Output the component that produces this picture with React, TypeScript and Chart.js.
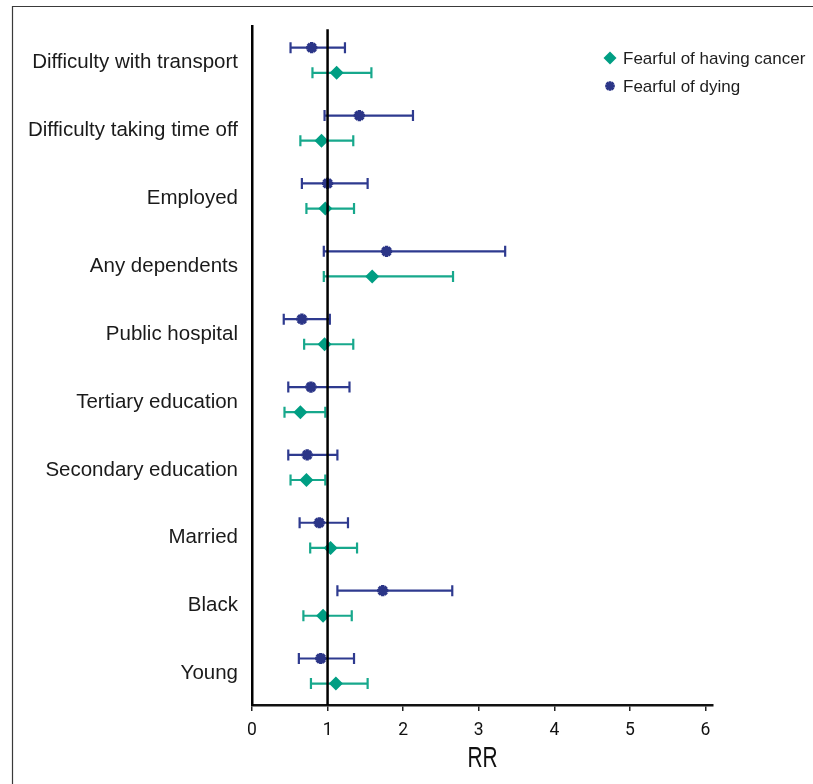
import React, { useEffect, useRef } from "react";
import { Chart, registerables } from "chart.js";

Chart.register(...registerables);

const categories = [
  "Difficulty with transport",
  "Difficulty taking time off",
  "Employed",
  "Any dependents",
  "Public hospital",
  "Tertiary education",
  "Secondary education",
  "Married",
  "Black",
  "Young",
];

const dyingRR = [0.79, 1.42, 1.0, 1.78, 0.66, 0.78, 0.73, 0.89, 1.73, 0.91];
const dyingLow = [0.51, 0.96, 0.66, 0.95, 0.42, 0.48, 0.48, 0.63, 1.13, 0.62];
const dyingHigh = [1.23, 2.13, 1.53, 3.35, 1.03, 1.29, 1.13, 1.27, 2.65, 1.35];

const cancerRR = [1.12, 0.92, 0.97, 1.59, 0.96, 0.64, 0.72, 1.04, 0.94, 1.11];
const cancerLow = [0.8, 0.64, 0.72, 0.95, 0.69, 0.43, 0.51, 0.77, 0.68, 0.78];
const cancerHigh = [1.58, 1.34, 1.35, 2.66, 1.34, 0.97, 0.97, 1.39, 1.32, 1.53];

const xTicks = [0, 1, 2, 3, 4, 5, 6];
const xTitle = "RR";

const NAVY = "#2b3587";
const NAVY_BAR = "#2e3a8f";
const TEAL = "#009e83";
const TEAL_BAR = "#17a88c";
const OFFSET = 0.185;

export default function App() {
  const ref = useRef<HTMLCanvasElement | null>(null);

  useEffect(() => {
    if (!ref.current) return;

    const errorBars = {
      id: "errorBars",
      beforeDatasetsDraw(chart: any) {
        const { ctx } = chart;
        const xs = chart.scales.x;
        const ys = chart.scales.y;
        chart.data.datasets.forEach((ds: any) => {
          const lows: number[] = ds.lows;
          const highs: number[] = ds.highs;
          ctx.save();
          ctx.strokeStyle = ds.barColor;
          ctx.lineWidth = 2.2;
          ds.data.forEach((p: any, i: number) => {
            const y = ys.getPixelForValue(p.y);
            const x1 = xs.getPixelForValue(lows[i]);
            const x2 = xs.getPixelForValue(highs[i]);
            ctx.beginPath();
            ctx.moveTo(x1, y);
            ctx.lineTo(x2, y);
            ctx.moveTo(x1, y - 5.5);
            ctx.lineTo(x1, y + 5.5);
            ctx.moveTo(x2, y - 5.5);
            ctx.lineTo(x2, y + 5.5);
            ctx.stroke();
          });
          ctx.restore();
        });
      },
    };

    const refLine = {
      id: "refLine",
      afterDraw(chart: any) {
        const { ctx, chartArea } = chart;
        const xs = chart.scales.x;
        const x = xs.getPixelForValue(1);
        ctx.save();
        ctx.strokeStyle = "#000";
        ctx.lineWidth = 2.5;
        ctx.beginPath();
        ctx.moveTo(x, chartArea.top + 3);
        ctx.lineTo(x, chartArea.bottom);
        ctx.stroke();
        ctx.restore();
      },
    };

    const frameLegendTitle = {
      id: "frameLegendTitle",
      beforeDraw(chart: any) {
        const { ctx, width, height } = chart;
        ctx.save();
        ctx.fillStyle = "#fff";
        ctx.fillRect(0, 0, width, height);
        ctx.strokeStyle = "#3a3a3a";
        ctx.lineWidth = 1.2;
        ctx.beginPath();
        ctx.moveTo(12.5, height);
        ctx.lineTo(12.5, 6.5);
        ctx.lineTo(width, 6.5);
        ctx.stroke();
        ctx.restore();
      },
      afterDraw(chart: any) {
        const { ctx, chartArea } = chart;
        const items = [
          { label: chart.data.datasets[1].label, y: 58, kind: "diamond" },
          { label: chart.data.datasets[0].label, y: 86, kind: "star" },
        ];
        ctx.save();
        items.forEach((it) => {
          const cx = 610;
          if (it.kind === "diamond") {
            ctx.fillStyle = TEAL;
            ctx.beginPath();
            ctx.moveTo(cx, it.y - 6.5);
            ctx.lineTo(cx + 6.5, it.y);
            ctx.lineTo(cx, it.y + 6.5);
            ctx.lineTo(cx - 6.5, it.y);
            ctx.closePath();
            ctx.fill();
          } else {
            ctx.strokeStyle = NAVY;
            ctx.lineWidth = 2.8;
            ctx.beginPath();
            const r = 4.8;
            for (let k = 0; k < 4; k++) {
              const a = (k * Math.PI) / 4;
              ctx.moveTo(cx - Math.cos(a) * r, it.y - Math.sin(a) * r);
              ctx.lineTo(cx + Math.cos(a) * r, it.y + Math.sin(a) * r);
            }
            ctx.stroke();
          }
          ctx.fillStyle = "#1e1e1e";
          ctx.font = "17px 'Liberation Sans', Arial, sans-serif";
          ctx.textAlign = "left";
          ctx.textBaseline = "middle";
          ctx.fillText(it.label, 623, it.y + 1);
        });
        const cx = (chartArea.left + chartArea.right) / 2;
        ctx.translate(cx, 759);
        ctx.scale(0.72, 1);
        ctx.fillStyle = "#111";
        ctx.font = "29px 'Liberation Sans', Arial, sans-serif";
        ctx.textAlign = "center";
        ctx.textBaseline = "middle";
        ctx.fillText(xTitle, 0, 0);
        ctx.restore();
      },
    };

    const chart = new Chart(ref.current, {
      type: "scatter",
      data: {
        datasets: [
          {
            label: "Fearful of dying",
            data: dyingRR.map((v, i) => ({ x: v, y: i + 0.5 - OFFSET })),
            pointStyle: "star",
            pointRadius: 5.6,
            pointBorderWidth: 3.4,
            borderColor: NAVY,
            backgroundColor: NAVY,
            lows: dyingLow,
            highs: dyingHigh,
            barColor: NAVY_BAR,
          } as any,
          {
            label: "Fearful of having cancer",
            data: cancerRR.map((v, i) => ({ x: v, y: i + 0.5 + OFFSET })),
            pointStyle: "rectRot",
            pointRadius: 7,
            pointBorderWidth: 0,
            borderColor: TEAL,
            backgroundColor: TEAL,
            lows: cancerLow,
            highs: cancerHigh,
            barColor: TEAL_BAR,
          } as any,
        ],
      },
      options: {
        responsive: false,
        animation: false,
        events: [],
        layout: { padding: { left: 0, right: 100, top: 25, bottom: 0 } },
        plugins: {
          legend: { display: false },
          tooltip: { enabled: false },
          title: { display: false },
        },
        scales: {
          x: {
            type: "linear",
            min: 0,
            max: 6.1,
            afterBuildTicks: (scale: any) => {
              scale.ticks = xTicks.map((v) => ({ value: v }));
            },
            afterFit: (scale: any) => {
              scale.height = 79;
            },
            grid: {
              display: true,
              drawOnChartArea: false,
              drawTicks: true,
              tickLength: 6,
              color: "#222",
              lineWidth: 1.5,
            },
            border: { display: true, color: "#111", width: 2.5 },
            ticks: {
              padding: 9,
              color: "#111",
              font: { family: "Roboto, 'Liberation Sans', sans-serif", size: 17.5 },
              callback: (v: any) => String(v),
            },
          },
          y: {
            type: "linear",
            min: 0,
            max: categories.length,
            reverse: true,
            afterBuildTicks: (scale: any) => {
              scale.ticks = categories.map((_, i) => ({ value: i + 0.5 }));
            },
            afterFit: (scale: any) => {
              scale.width = 252;
            },
            grid: { display: true, drawOnChartArea: false, drawTicks: false },
            border: { display: true, color: "#000", width: 2.5 },
            ticks: {
              padding: 14,
              labelOffset: 2.5,
              color: "#1a1a1a",
              font: { family: "'Liberation Sans', Arial, sans-serif", size: 20.5 },
              callback: (v: any) => categories[Math.round(Number(v) - 0.5)],
            },
          },
        },
      },
      plugins: [frameLegendTitle, errorBars, refLine],
    });

    return () => chart.destroy();
  }, []);

  return (
    <div style={{ position: "absolute", left: 0, top: 0, width: 813, height: 784 }}>
      <canvas ref={ref} width={813} height={784} style={{ display: "block" }} />
    </div>
  );
}
